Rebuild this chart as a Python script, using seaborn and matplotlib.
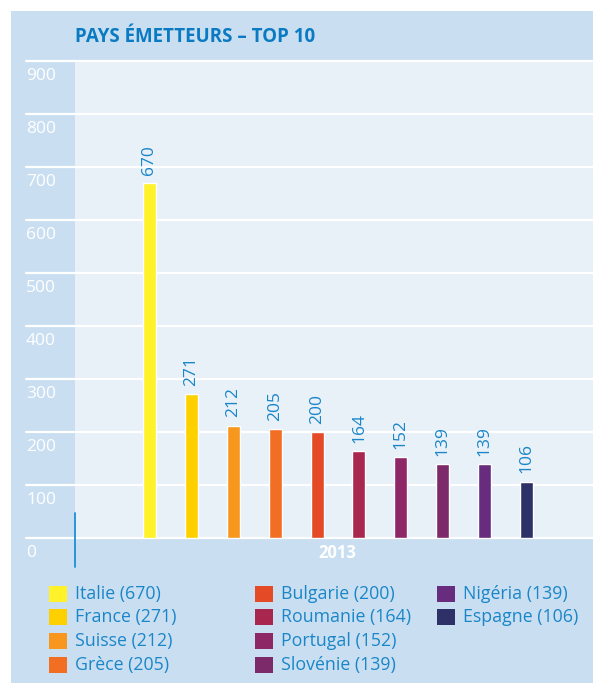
import matplotlib
matplotlib.use("Agg")
import matplotlib.pyplot as plt
import matplotlib.transforms as mtransforms
from matplotlib.patches import Rectangle
import seaborn as sns
import pandas as pd

countries = ["Italie", "France", "Suisse", "Grèce", "Bulgarie", "Roumanie",
             "Portugal", "Slovénie", "Nigéria", "Espagne"]
values = [670, 271, 212, 205, 200, 164, 152, 139, 139, 106]
colors = ["#fff12a", "#ffd000", "#f7971d", "#f26e22", "#e44a26", "#a9264f",
          "#8e2766", "#7d2a6a", "#672c7d", "#2e3068"]
yticks = [0, 100, 200, 300, 400, 500, 600, 700, 800, 900]
title = "PAYS ÉMETTEURS – TOP 10"
year_label = "2013"

W, H = 593, 684
sns.set_theme(style="white")
plt.rcParams["font.family"] = ["Open Sans", "DejaVu Sans"]

fig = plt.figure(figsize=(W / 100, H / 100), dpi=100, facecolor="white")

def fx(px):
    return px / W

def fy(py):
    return 1 - py / H

PANEL = "#c9dff1"
INNER = "#e8f0f8"
BLUE = "#1a86c8"

# outer panel
fig.add_artist(Rectangle((fx(11), fy(683)), fx(593) - fx(11), fy(11) - fy(683),
                         transform=fig.transFigure, facecolor=PANEL,
                         edgecolor="none", zorder=-10))

ax_l, ax_r, ax_t, ax_b = 75, 593, 61, 538
ax = fig.add_axes([fx(ax_l), fy(ax_b), fx(ax_r) - fx(ax_l), fy(ax_t) - fy(ax_b)])
ax.set_zorder(1)
ax.set_facecolor(INNER)

df = pd.DataFrame({"pays": countries, "n": values})
sns.barplot(data=df, x="pays", y="n", hue="pays", palette=colors, width=0.31,
            dodge=False, legend=False, ax=ax, saturation=1, zorder=3)

ax.set_ylim(0, 900)
ax.set_xlim(-1.77, 10.58)
ax.set_xticks([])
ax.set_yticks([])
ax.set_xlabel("")
ax.set_ylabel("")
for s in ax.spines.values():
    s.set_visible(False)

left_ext = -(ax_l - 26) / (ax_r - ax_l)
for v in yticks:
    ax.axhline(v, xmin=left_ext, xmax=1, color="white", lw=1.6, clip_on=False, zorder=2)

blend = mtransforms.blended_transform_factory(ax.transAxes, ax.transData)
for v in yticks:
    ax.text(left_ext, v - 29, str(v), transform=blend, ha="left", va="center",
            color="white", fontsize=12.5, clip_on=False)

for i, v in enumerate(values):
    ax.annotate(str(v), (i, v), xytext=(0, 6), textcoords="offset points",
                rotation=90, ha="center", va="bottom", color=BLUE, fontsize=12.5)

# small blue vertical tick and year label
fig.add_artist(plt.Line2D([fx(75), fx(75)], [fy(513), fy(567)], color="#1a8fd8", lw=1.3,
                          zorder=5))
fig.text(fx(337), fy(553), year_label, ha="center", va="center", color="white",
         fontsize=12, fontweight="bold")

fig.text(fx(75), fy(37), title, ha="left", va="center", color="#0a7bc2",
         fontsize=13.5, fontweight="bold")

# legend
col_x = [49, 255, 437]
row_y = [594, 617, 641, 665]
per_col = [4, 4, 2]
k = 0
for c, n in enumerate(per_col):
    for r in range(n):
        x0, y0 = col_x[c], row_y[r]
        fig.add_artist(Rectangle((fx(x0), fy(y0 + 8)), fx(18), 16 / H,
                                 transform=fig.transFigure, facecolor=colors[k],
                                 edgecolor="none"))
        fig.text(fx(x0 + 26), fy(y0), f"{countries[k]} ({values[k]})", ha="left",
                 va="center", color=BLUE, fontsize=12.8)
        k += 1

fig.savefig("out.png", dpi=100, facecolor="white")
